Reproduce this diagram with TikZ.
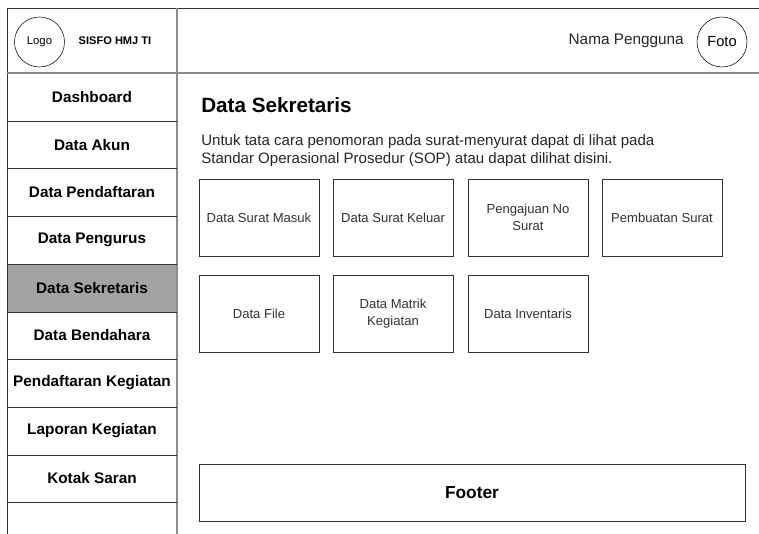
\documentclass[tikz,border=0pt]{standalone}
\usepackage{fontspec}
\setmainfont{Liberation Sans}
\usetikzlibrary{positioning}
\definecolor{garis}{HTML}{333333}
\definecolor{garisabu}{HTML}{8C8C8C}
\definecolor{aktif}{HTML}{A3A3A3}
\tikzset{
    menu/.style={minimum width=127.5pt, minimum height=35.8pt, inner sep=0pt,
      font=\fontsize{11.5}{13}\selectfont\bfseries},
    kotak/.style={draw=garis, minimum width=90pt, minimum height=57.7pt, inner sep=2pt,
      align=center, text=black!80, font=\fontsize{9.8}{12.6}\selectfont},
    bulat/.style={draw=black, circle, minimum size=37.5pt, inner sep=0pt},
  }
\begin{document}
\begin{tikzpicture}[x=0.75pt,y=-0.75pt]
				  %bingkai
				  \useasboundingbox (0,0) rectangle (759,534);
				  \fill[aktif] (7,265) rectangle (177,312.7);
				  \draw[garis] (7,534) -- (7,8) -- (759,8);
				  \draw[garisabu, line width=0.8pt] (7,73) -- (759,73);
				  \draw[garisabu, line width=1.2pt] (177,8) -- (177,534);
				  %header
				  \node[bulat, font=\fontsize{8.5}{10}\selectfont] (logo) at (39.5,42) {Logo};
				  \node[font=\fontsize{8.3}{10}\selectfont\bfseries] (judul) at (115,41) {SISFO HMJ TI};
				  \node[bulat, font=\fontsize{11}{13}\selectfont] (foto) at (722,42) {Foto};
				  \node[font=\fontsize{11.5}{13}\selectfont, text=black!85, anchor=east, inner sep=0pt] (nama) at (684,41) {Nama Pengguna};
				  %menu
				  \foreach \i/\teks in {1/Dashboard,2/Data Akun,3/Data Pendaftaran,4/Data Pengurus,
				    5/Data Sekretaris,6/Data Bendahara,7/Pendaftaran Kegiatan,8/Laporan Kegiatan,9/Kotak Saran}{
				    \node[menu] (m\i) at (92,{73+47.7*(\i-0.5)}) {\teks};
				    \draw[garis] (m\i.south west) -- (m\i.south east);
				  }
				  %isi
				  \node[anchor=base west, inner sep=0pt, font=\fontsize{15.5}{18}\selectfont\bfseries] (sek) at (201,113) {Data Sekretaris};
				  \node[anchor=base west, inner sep=0pt, text=black!85, font=\fontsize{11.3}{14}\selectfont] (ket1) at (201,146)
				    {Untuk tata cara penomoran pada surat-menyurat dapat di lihat pada};
				  \node[anchor=base west, inner sep=0pt, text=black!85, font=\fontsize{11.3}{14}\selectfont] (ket2) at (201,164)
				    {Standar Operasional Prosedur (SOP) atau dapat dilihat disini.};
				  \node[kotak] (k1) at (259,217.5) {Data Surat Masuk};
				  \node[kotak] (k2) at (393,217.5) {Data Surat Keluar};
				  \node[kotak] (k3) at (528,217.5) {Pengajuan No\\Surat};
				  \node[kotak] (k4) at (662,217.5) {Pembuatan Surat};
				  \node[kotak] (k5) at (259,314) {Data File};
				  \node[kotak] (k6) at (393,314) {Data Matrik\\Kegiatan};
				  \node[kotak] (k7) at (528,314) {Data Inventaris};
				  \node[draw=garis, minimum width=409.5pt, minimum height=43pt,
				    font=\fontsize{13}{15}\selectfont\bfseries] (foot) at (472,492.5) {Footer};
				  \end{tikzpicture}
\end{document}
